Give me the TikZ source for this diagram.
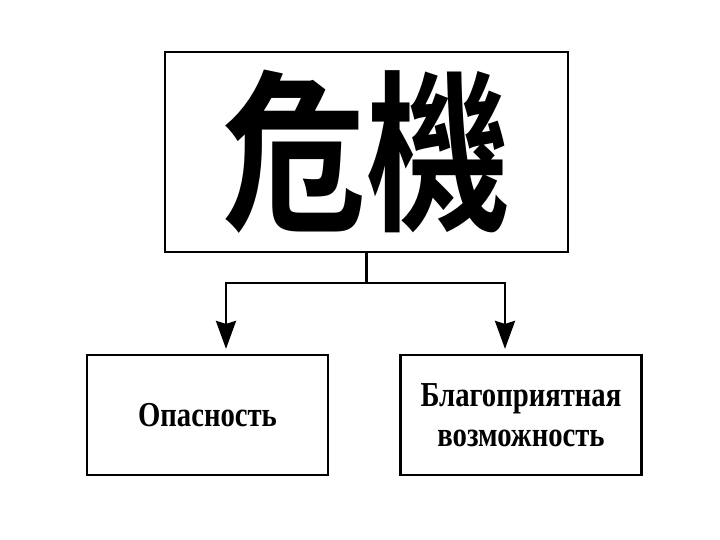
\documentclass[tikz,border=0pt]{standalone}
\usepackage{fontspec}
\setmainfont{Liberation Serif}
\newfontfamily\cjk{Noto Sans CJK TC}[BoldFont={Noto Sans CJK TC Bold}]
\usetikzlibrary{arrows.meta,positioning}

\begin{document}
\begin{tikzpicture}[
  x=1pt, y=-1pt,
  >={Stealth[length=28pt,width=20pt,inset=3pt]},
  every node/.style={font=\bfseries},
  frame/.style={
    draw,
    line width=2.2pt,
    align=center,
    inner sep=0pt
  },
  label/.style={
    frame,
    minimum width=241pt,
    minimum height=120pt,
    font=\fontsize{35}{40}\selectfont\bfseries
  },
  link/.style={line width=2.6pt}
]
  \useasboundingbox (0,0) rectangle (720,540);

  \node[frame,minimum width=403pt,minimum height=200pt,
        font=\cjk\bfseries\fontsize{144}{144}\selectfont] (crisis) at (366.5,152)
        {\scalebox{1}[1.2]{危機}};

  \node[label] (danger) at (207.5,415) {\scalebox{0.82}[1]{Опасность}};
  \node[label] (chance) at (521,415) {\scalebox{0.82}[1]{Благоприятная}\\\scalebox{0.82}[1]{возможность}};

  \coordinate (split) at (366.5,283);
  \draw[link] (crisis.south) -- (split);
  \draw[link,->,shorten >=5pt] (split) -| ([xshift=18.5pt]danger.north);
  \draw[link,->,shorten >=5pt] (split) -| ([xshift=-16pt]chance.north);
\end{tikzpicture}
\end{document}
